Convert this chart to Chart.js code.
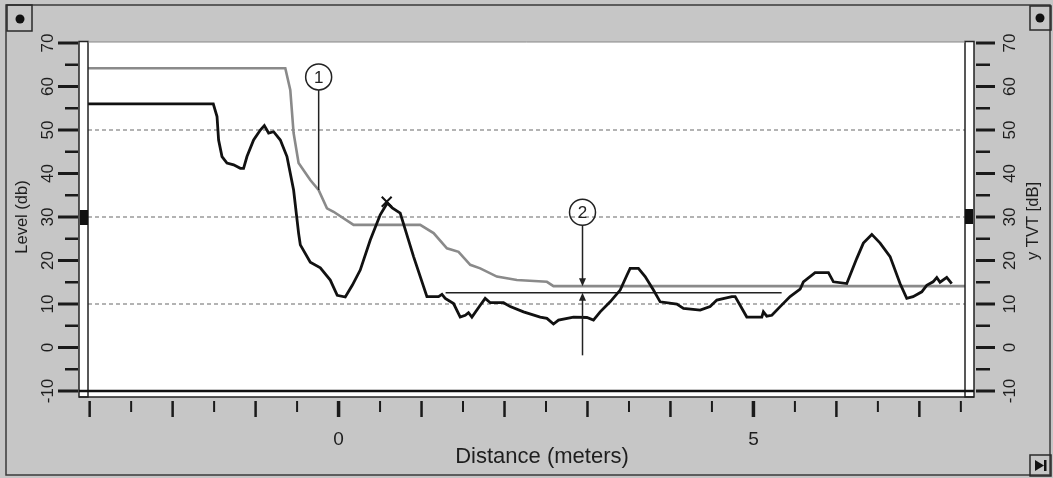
<!DOCTYPE html>
<html>
<head>
<meta charset="utf-8">
<script src="https://cdn.jsdelivr.net/npm/chart.js@4/dist/chart.umd.min.js"></script>
<style>
  html, body { margin: 0; padding: 0; background: #c8c8c8; }
  #wrap { width: 1053px; height: 478px; }
</style>
</head>
<body>
<div id="wrap"><canvas id="echoChart"></canvas></div>
<script>
// echo profile (black) - distance in meters, level in dB
const levelDist = [-3.02, -1.51, -1.465, -1.446, -1.405, -1.345, -1.265, -1.184, -1.145, -1.104,
  -1.024, -0.943, -0.895, -0.843, -0.783, -0.702, -0.622, -0.542, -0.482, -0.461,
  -0.341, -0.22, -0.1, -0.016, 0.081, 0.165, 0.261, 0.382, 0.502, 0.587,
  0.647, 0.743, 0.904, 1.065, 1.205, 1.246, 1.286, 1.386, 1.466, 1.527,
  1.566, 1.607, 1.707, 1.767, 1.828, 1.988, 2.069, 2.229, 2.43, 2.511,
  2.59, 2.651, 2.831, 2.993, 3.072, 3.153, 3.273, 3.394, 3.475, 3.514,
  3.614, 3.695, 3.795, 3.876, 4.077, 4.157, 4.358, 4.478, 4.559, 4.74,
  4.78, 4.92, 5.101, 5.12, 5.161, 5.222, 5.322, 5.442, 5.563, 5.602,
  5.743, 5.904, 5.964, 6.125, 6.246, 6.325, 6.427, 6.527, 6.647, 6.767,
  6.848, 6.924, 7.029, 7.089, 7.165, 7.21, 7.249, 7.33, 7.39];
const levelDb = [56.0, 56.0, 53.1, 47.7, 43.9, 42.4, 42.0, 41.2, 41.2, 43.9,
  47.7, 50.0, 51.0, 49.3, 49.6, 47.7, 43.9, 36.2, 26.3, 23.6,
  19.6, 18.3, 15.5, 12.0, 11.6, 14.3, 17.8, 24.7, 30.5, 33.2,
  32.1, 30.9, 20.9, 11.7, 11.7, 12.2, 11.3, 10.1, 7.0, 7.4,
  8.0, 7.0, 9.7, 11.3, 10.3, 10.3, 9.4, 8.2, 7.0, 6.7,
  5.4, 6.3, 7.0, 6.9, 6.3, 8.2, 10.5, 13.2, 16.6, 18.2,
  18.2, 16.3, 13.2, 10.5, 10.0, 9.0, 8.6, 9.4, 10.9, 11.7,
  11.7, 7.0, 7.0, 8.2, 7.2, 7.4, 9.4, 11.7, 13.4, 15.1,
  17.2, 17.2, 15.1, 14.7, 20.5, 24.0, 26.0, 24.0, 20.9, 14.7,
  11.3, 11.7, 12.8, 14.3, 15.1, 16.1, 15.0, 16.1, 14.7];

// TVT curve (gray)
const tvtDist = [-3.02, -0.642, -0.582, -0.542, -0.482, -0.341, -0.241, -0.14, -0.06, 0.181,
  0.984, 1.145, 1.306, 1.446, 1.587, 1.707, 1.908, 2.149, 2.511, 2.59, 7.55];
const tvtDb = [64.2, 64.2, 59.2, 49.3, 42.4, 38.5, 36.2, 32.0, 31.2, 28.2,
  28.2, 26.3, 22.8, 22.0, 19.0, 18.2, 16.3, 15.5, 15.1, 14.1, 14.1];

// horizontal reference line under the TVT
const refDist = [1.29, 5.34];
const refDb = [12.6, 12.6];

// selected echo (X marker)
const echoDist = [0.58];
const echoDb = [33.5];

// axis ticks
const yTickValues = [-10, 0, 10, 20, 30, 40, 50, 60, 70];
const gridValues = [10, 30, 50];
const xLabelValues = [0, 5];

// callouts: number, distance, level of circle, level where the line ends
const callout1 = { label: '1', dist: -0.24, circleDb: 62.2, endDb: 36.2 };
const callout2 = { label: '2', dist: 2.94, circleDb: 31.1, tvtDb: 14.1, refDb: 12.6, lowDb: -1.8 };

const toPts = (xs, ys) => xs.map((x, i) => ({ x: x, y: ys[i] }));
const FONT = '"Liberation Sans", Arial, sans-serif';

function arrowHead(ctx, x, y, dir) {
  // dir 1 = pointing down, -1 = pointing up
  ctx.beginPath();
  ctx.moveTo(x, y);
  ctx.lineTo(x - 3.5, y - dir * 8);
  ctx.lineTo(x + 3.5, y - dir * 8);
  ctx.closePath();
  ctx.fill();
}

const framePlugin = {
  id: 'frame',
  beforeDraw(chart) {
    const ctx = chart.ctx;
    const a = chart.chartArea;
    const ys = chart.scales.y;
    ctx.save();
    ctx.fillStyle = '#c6c6c6';
    ctx.fillRect(0, 0, chart.width, chart.height);
    // outer frame
    ctx.strokeStyle = '#3a3a3a';
    ctx.lineWidth = 1.5;
    ctx.strokeRect(6, 5, 1044, 470);
    // plot + strips
    ctx.fillStyle = '#ffffff';
    ctx.fillRect(79, a.top - 1, 974 - 79, 397 - a.top + 1);
    // dashed grid
    ctx.strokeStyle = '#9a9a9a';
    ctx.lineWidth = 1.5;
    ctx.setLineDash([4, 3]);
    gridValues.forEach(v => {
      const y = ys.getPixelForValue(v);
      ctx.beginPath();
      ctx.moveTo(a.left, y);
      ctx.lineTo(a.right, y);
      ctx.stroke();
    });
    ctx.restore();
  },
  afterDatasetsDraw(chart) {
    const ctx = chart.ctx;
    const a = chart.chartArea;
    const xs = chart.scales.x;
    const ys = chart.scales.y;
    ctx.save();

    // strips and plot borders
    ctx.strokeStyle = '#222';
    ctx.lineWidth = 1.5;
    ctx.strokeRect(79, a.top - 1.5, a.left - 79, 397 - a.top + 1.5);
    ctx.strokeRect(a.right, a.top - 1.5, 974 - a.right, 397 - a.top + 1.5);
    ctx.beginPath();
    ctx.moveTo(79, 397); ctx.lineTo(974, 397);
    ctx.stroke();
    ctx.strokeStyle = '#888';
    ctx.lineWidth = 1;
    ctx.beginPath();
    ctx.moveTo(a.left, a.top - 1); ctx.lineTo(a.right, a.top - 1);
    ctx.stroke();
    ctx.strokeStyle = '#111';
    ctx.lineWidth = 2.5;
    ctx.beginPath();
    ctx.moveTo(79, a.bottom); ctx.lineTo(974, a.bottom);
    ctx.stroke();

    // markers in strips at 30 dB
    const y30 = ys.getPixelForValue(30);
    ctx.fillStyle = '#111';
    ctx.fillRect(80, y30 - 7, a.left - 80, 15);
    ctx.fillRect(a.right, y30 - 8, 974 - a.right - 1, 15);

    // y ticks (both sides)
    ctx.strokeStyle = '#1a1a1a';
    for (let v = -10; v <= 70; v += 5) {
      const y = ys.getPixelForValue(v);
      const major = v % 10 === 0;
      ctx.lineWidth = major ? 3.2 : 2.6;
      ctx.beginPath();
      ctx.moveTo(major ? 58 : 65, y); ctx.lineTo(78, y);
      ctx.moveTo(976, y); ctx.lineTo(major ? 995 : 990, y);
      ctx.stroke();
    }
    // x ticks
    for (let v = -3; v <= 7.5; v += 0.5) {
      const x = xs.getPixelForValue(v);
      const major = Number.isInteger(v);
      ctx.lineWidth = (v === 0 || v === 5) ? 3.5 : (major ? 2.5 : 2);
      ctx.beginPath();
      ctx.moveTo(x, 401); ctx.lineTo(x, major ? 417 : 412);
      ctx.stroke();
    }

    // tick labels
    ctx.fillStyle = '#1e1e1e';
    ctx.textAlign = 'center';
    ctx.textBaseline = 'middle';
    ctx.font = '17px ' + FONT;
    yTickValues.forEach(v => {
      const y = ys.getPixelForValue(v);
      [48, 1010].forEach(x => {
        ctx.save();
        ctx.translate(x, y);
        ctx.rotate(-Math.PI / 2);
        ctx.fillText(String(v), 0, 0);
        ctx.restore();
      });
    });
    ctx.font = '19px ' + FONT;
    xLabelValues.forEach(v => {
      ctx.fillText(String(v), xs.getPixelForValue(v), 440);
    });

    // axis titles
    const midY = (a.top + a.bottom) / 2;
    ctx.font = '16.5px ' + FONT;
    ctx.save(); ctx.translate(22, midY); ctx.rotate(-Math.PI / 2);
    ctx.fillText('Level (db)', 0, 0); ctx.restore();
    ctx.save(); ctx.translate(1033, midY + 4); ctx.rotate(-Math.PI / 2);
    ctx.fillText('y TVT [dB]', 0, 0); ctx.restore();
    ctx.font = '22px ' + FONT;
    ctx.fillText('Distance (meters)', 542, 457);

    // corner boxes
    ctx.strokeStyle = '#2a2a2a';
    ctx.lineWidth = 1.5;
    ctx.strokeRect(7, 5, 25, 26);
    ctx.strokeRect(1030, 6, 21, 24);
    ctx.strokeRect(1030, 455, 21, 21);
    ctx.fillStyle = '#111';
    [[20, 19], [1040, 18]].forEach(p => {
      ctx.beginPath(); ctx.arc(p[0], p[1], 4.5, 0, Math.PI * 2); ctx.fill();
    });
    ctx.beginPath();
    ctx.moveTo(1035, 460); ctx.lineTo(1044, 465.5); ctx.lineTo(1035, 471); ctx.closePath();
    ctx.fill();
    ctx.fillRect(1044, 460, 2.5, 11);

    // callout 1
    ctx.strokeStyle = '#222';
    ctx.fillStyle = '#222';
    ctx.lineWidth = 1.5;
    const r = 13;
    let cx = xs.getPixelForValue(callout1.dist);
    let cy = ys.getPixelForValue(callout1.circleDb);
    ctx.beginPath(); ctx.arc(cx, cy, r, 0, Math.PI * 2); ctx.stroke();
    ctx.beginPath(); ctx.moveTo(cx, cy + r); ctx.lineTo(cx, ys.getPixelForValue(callout1.endDb)); ctx.stroke();
    ctx.font = '17px ' + FONT;
    ctx.fillText(callout1.label, cx, cy + 1);

    // callout 2 with arrows
    cx = xs.getPixelForValue(callout2.dist);
    cy = ys.getPixelForValue(callout2.circleDb);
    const yTvt = ys.getPixelForValue(callout2.tvtDb);
    const yRef = ys.getPixelForValue(callout2.refDb);
    const yLow = ys.getPixelForValue(callout2.lowDb);
    ctx.beginPath(); ctx.arc(cx, cy, r, 0, Math.PI * 2); ctx.stroke();
    ctx.fillText(callout2.label, cx, cy + 1);
    ctx.beginPath(); ctx.moveTo(cx, cy + r); ctx.lineTo(cx, yTvt - 6); ctx.stroke();
    arrowHead(ctx, cx, yTvt, 1);
    ctx.beginPath(); ctx.moveTo(cx, yLow); ctx.lineTo(cx, yRef + 6); ctx.stroke();
    arrowHead(ctx, cx, yRef, -1);

    ctx.restore();
  }
};

new Chart(document.getElementById('echoChart'), {
  type: 'scatter',
  data: {
    datasets: [
      {
        label: 'Echo',
        data: toPts(echoDist, echoDb),
        showLine: false,
        pointStyle: 'crossRot',
        pointRadius: 7,
        borderColor: '#111',
        borderWidth: 2
      },
      {
        label: 'Level',
        data: toPts(levelDist, levelDb),
        showLine: true,
        borderColor: '#111',
        borderWidth: 2.8,
        pointRadius: 0,
        tension: 0
      },
      {
        label: 'Reference',
        data: toPts(refDist, refDb),
        showLine: true,
        borderColor: '#222',
        borderWidth: 1.5,
        pointRadius: 0
      },
      {
        label: 'TVT',
        data: toPts(tvtDist, tvtDb),
        showLine: true,
        borderColor: '#8a8a8a',
        borderWidth: 2.6,
        pointRadius: 0,
        tension: 0
      }
    ]
  },
  options: {
    responsive: true,
    maintainAspectRatio: false,
    animation: false,
    layout: { padding: { left: 88, right: 88, top: 43, bottom: 87 } },
    plugins: { legend: { display: false }, tooltip: { enabled: false } },
    scales: {
      x: { type: 'linear', min: -3.02, max: 7.55, display: false },
      y: { type: 'linear', min: -10, max: 70, display: false }
    }
  },
  plugins: [framePlugin]
});
</script>
</body>
</html>
